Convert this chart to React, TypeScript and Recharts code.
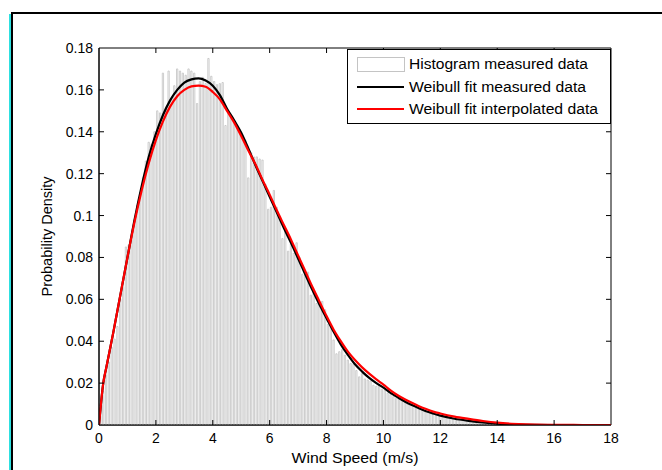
import React from 'react';
import { ComposedChart, Bar, Line, XAxis, YAxis, Label, ReferenceArea } from 'recharts';

// ---------- data ----------
const BIN_WIDTH = 0.1; // m/s, histogram bin width
const histogramMeasured = [
  0.009, 0.016, 0.024, 0.03, 0.037, 0.041, 0.047, 0.06, 0.066, 0.085,
  0.086, 0.09, 0.098, 0.105, 0.111, 0.118, 0.126, 0.135, 0.134, 0.14,
  0.15, 0.149, 0.168, 0.151, 0.169, 0.156, 0.162, 0.17, 0.169, 0.168,
  0.167, 0.17, 0.169, 0.168, 0.1535, 0.164, 0.166, 0.163, 0.175, 0.1665,
  0.164, 0.1625, 0.163, 0.1635, 0.143, 0.15, 0.147, 0.145, 0.143, 0.141,
  0.138, 0.136, 0.118, 0.13, 0.128, 0.128, 0.127, 0.1265, 0.115, 0.103,
  0.104, 0.112, 0.104, 0.099, 0.089, 0.093, 0.083, 0.088, 0.082, 0.087,
  0.08, 0.072, 0.0715, 0.073, 0.062, 0.064, 0.058, 0.0585, 0.059, 0.055,
  0.048, 0.047, 0.0406, 0.034, 0.035, 0.036, 0.0334, 0.031, 0.0294, 0.029,
  0.026, 0.023, 0.0245, 0.022, 0.0215, 0.021, 0.019, 0.0185, 0.019, 0.017,
  0.0165, 0.0152, 0.0145, 0.0135, 0.0127, 0.0124, 0.0118, 0.0108, 0.0103, 0.0098,
  0.0088, 0.0082, 0.0078, 0.0072, 0.0066, 0.006, 0.0058, 0.0052, 0.0048, 0.0045,
  0.0042, 0.004, 0.0036, 0.0034, 0.0031, 0.0029, 0.0027, 0.0025, 0.0022, 0.0021,
  0.0019, 0.0018, 0.0016, 0.0015, 0.0013, 0.0012, 0.0011, 0.001, 0.0009, 0.0008,
  0.0007, 0.0006, 0.0006, 0.0005, 0.0004, 0.0004, 0.0003, 0.0003, 0.0002, 0.0002,
];

const fitSpeeds = [
  0, 0.15, 0.25, 0.5, 0.75, 1, 1.25, 1.5, 1.75, 2, 2.25, 2.5, 2.75, 3, 3.25, 3.5,
  3.75, 4, 4.25, 4.5, 4.75, 5, 5.25, 5.5, 5.75, 6, 6.25, 6.5, 6.75, 7, 7.25, 7.5,
  7.75, 8, 8.25, 8.5, 8.75, 9, 9.25, 9.5, 9.75, 10, 10.25, 10.5, 10.75, 11, 11.25,
  11.5, 11.75, 12, 12.5, 13, 13.5, 14, 14.5, 15, 16, 17, 18,
];
const weibullMeasured = [
  0, 0.02, 0.027, 0.044, 0.062, 0.08, 0.098, 0.114, 0.128, 0.139, 0.148, 0.155, 0.16, 0.1635, 0.165, 0.1655,
  0.1645, 0.162, 0.1575, 0.151, 0.1455, 0.1395, 0.132, 0.124, 0.1165, 0.109, 0.1015, 0.094, 0.087, 0.0795, 0.072, 0.0645,
  0.0575, 0.051, 0.0445, 0.0385, 0.0335, 0.029, 0.0255, 0.0225, 0.02, 0.0178, 0.0153, 0.0132, 0.0112, 0.0095, 0.008,
  0.0066, 0.0055, 0.0045, 0.003, 0.002, 0.0012, 0.0007, 0.0003, 0.0001, 0, 0, 0,
];
const weibullInterpolated = [
  0, 0.02, 0.027, 0.044, 0.062, 0.08, 0.097, 0.112, 0.125, 0.136, 0.145, 0.152, 0.157, 0.16, 0.1617, 0.162,
  0.1615, 0.159, 0.1555, 0.15, 0.1445, 0.138, 0.131, 0.1245, 0.117, 0.11, 0.1025, 0.0955, 0.0885, 0.081, 0.0735, 0.066,
  0.059, 0.052, 0.0455, 0.04, 0.035, 0.031, 0.0275, 0.0245, 0.0218, 0.0193, 0.0165, 0.0142, 0.0123, 0.0106, 0.009,
  0.0076, 0.0064, 0.0055, 0.004, 0.0029, 0.0019, 0.0011, 0.0006, 0.0003, 0.0001, 0, 0,
];

const xTicks = [0, 2, 4, 6, 8, 10, 12, 14, 16, 18];
const yTicks = [0, 0.02, 0.04, 0.06, 0.08, 0.1, 0.12, 0.14, 0.16, 0.18];

const legendLabels = [
  'Histogram measured data',
  'Weibull fit measured data',
  'Weibull fit interpolated data',
];

// ---------- layout ----------
const W = 662;
const H = 470;
const PL = 99;
const PR = 611;
const PT = 48;
const PB = 425;
const PLOT_W = PR - PL;
const FONT = '"Liberation Sans", Arial, sans-serif';

const histData = histogramMeasured.map((v, i) => ({
  speed: Math.round((i + 0.5) * BIN_WIDTH * 100) / 100,
  density: v,
}));
const measuredData = fitSpeeds.map((s, i) => ({ speed: s, fit: weibullMeasured[i] }));
const interpData = fitSpeeds.map((s, i) => ({ speed: s, fit: weibullInterpolated[i] }));

const fmtY = (v: number) => String(+v.toFixed(2));

const XTick = (props: any) => {
  const { x, payload } = props;
  const edge = payload.value === 0 || payload.value === 18;
  return (
    <g>
      {!edge && <line x1={x} x2={x} y1={PB} y2={PB - 5} stroke="#000" strokeWidth={1} />}
      {!edge && <line x1={x} x2={x} y1={PT} y2={PT + 5} stroke="#000" strokeWidth={1} />}
      <text x={x} y={PB + 18} textAnchor="middle" fontSize={14} fontFamily={FONT} fill="#000">
        {payload.value}
      </text>
    </g>
  );
};

const YTick = (props: any) => {
  const { y, payload } = props;
  const edge = payload.value === 0 || payload.value === 0.18;
  return (
    <g>
      {!edge && <line x1={PL} x2={PL + 5} y1={y} y2={y} stroke="#000" strokeWidth={1} />}
      {!edge && <line x1={PR} x2={PR - 5} y1={y} y2={y} stroke="#000" strokeWidth={1} />}
      <text x={PL - 6} y={y + 5} textAnchor="end" fontSize={14} fontFamily={FONT} fill="#000">
        {fmtY(payload.value)}
      </text>
    </g>
  );
};

const LegendBox = () => {
  const lx = 347;
  const ly = 49;
  const lw = PR - lx;
  const lh = 74;
  return (
    <svg
      width={W}
      height={H}
      style={{ position: 'absolute', left: 0, top: 0, pointerEvents: 'none' }}
    >
      <rect x={lx + 0.5} y={ly + 0.5} width={lw - 1} height={lh} fill="#fff" stroke="#000" strokeWidth={1} />
      <rect x={357.5} y={57.5} width={47} height={14} fill="#fff" stroke="#c4c4c4" strokeWidth={1} />
      <line x1={357} x2={404} y1={87} y2={87} stroke="#000" strokeWidth={2} />
      <line x1={357} x2={404} y1={109} y2={109} stroke="#ff0000" strokeWidth={2} />
      <text x={409} y={69} fontSize={14} fontFamily={FONT} fill="#000" textLength={179} lengthAdjust="spacingAndGlyphs">
        {legendLabels[0]}
      </text>
      <text x={409} y={92} fontSize={14} fontFamily={FONT} fill="#000" textLength={177} lengthAdjust="spacingAndGlyphs">
        {legendLabels[1]}
      </text>
      <text x={409} y={114} fontSize={14} fontFamily={FONT} fill="#000" textLength={189} lengthAdjust="spacingAndGlyphs">
        {legendLabels[2]}
      </text>
    </svg>
  );
};

export default function App() {
  return (
    <div style={{ position: 'absolute', left: 0, top: 0, width: W, height: H, background: '#fff', overflow: 'hidden' }}>
      <div
        style={{
          position: 'absolute',
          left: 11,
          top: 12,
          width: W,
          height: H,
          borderTop: '2px solid #000',
          borderLeft: '2px solid #000',
        }}
      />
      <div style={{ position: 'absolute', left: 9, top: 14, width: 2, height: H, background: '#2ee0e0' }} />
      <div style={{ position: 'absolute', left: 0, top: 0 }}>
        <ComposedChart
          width={W}
          height={H}
          data={histData}
          margin={{ top: PT, right: W - PR, bottom: 0, left: PL - 60 }}
          barCategoryGap={0}
          barGap={0}
        >
          <XAxis
            xAxisId="bottom"
            dataKey="speed"
            type="number"
            domain={[0, 18]}
            ticks={xTicks}
            allowDataOverflow
            height={H - PB}
            tickLine={false}
            axisLine={{ stroke: '#000', strokeWidth: 1 }}
            tick={(p: any) => <XTick {...p} />}
            interval={0}
          >
            <Label
              content={() => (
                <text x={(PL + PR) / 2} y={463} textAnchor="middle" fontSize={14} fontFamily={FONT} fill="#000" textLength={127} lengthAdjust="spacingAndGlyphs">
                  Wind Speed (m/s)
                </text>
              )}
            />
          </XAxis>
          <YAxis
            yAxisId="left"
            type="number"
            domain={[0, 0.18]}
            ticks={yTicks}
            allowDataOverflow
            width={60}
            tickLine={false}
            axisLine={{ stroke: '#000', strokeWidth: 1 }}
            tick={(p: any) => <YTick {...p} />}
            interval={0}
          >
            <Label
              content={() => (
                <text
                  x={52}
                  y={(PT + PB) / 2}
                  textAnchor="middle"
                  fontSize={14.5}
                  fontFamily={FONT}
                  fill="#000"
                  transform={`rotate(-90, 52, ${(PT + PB) / 2})`}
                >
                  Probability Density
                </text>
              )}
            />
          </YAxis>
          <Bar
            xAxisId="bottom"
            yAxisId="left"
            dataKey="density"
            barSize={PLOT_W / 180}
            fill="#ffffff"
            stroke="#c2c2c2"
            strokeWidth={0.8}
            isAnimationActive={false}
          />
          <Line
            xAxisId="bottom"
            yAxisId="left"
            data={measuredData}
            dataKey="fit"
            type="monotone"
            stroke="#000000"
            strokeWidth={2.2}
            dot={false}
            activeDot={false}
            isAnimationActive={false}
          />
          <Line
            xAxisId="bottom"
            yAxisId="left"
            data={interpData}
            dataKey="fit"
            type="monotone"
            stroke="#ff0000"
            strokeWidth={2.2}
            dot={false}
            activeDot={false}
            isAnimationActive={false}
          />
          <ReferenceArea
            xAxisId="bottom"
            yAxisId="left"
            x1={0}
            x2={18}
            y1={0}
            y2={0.18}
            fill="none"
            fillOpacity={0}
            stroke="#000"
            strokeWidth={1}
            ifOverflow="visible"
          />
        </ComposedChart>
      </div>
      <LegendBox />
    </div>
  );
}
